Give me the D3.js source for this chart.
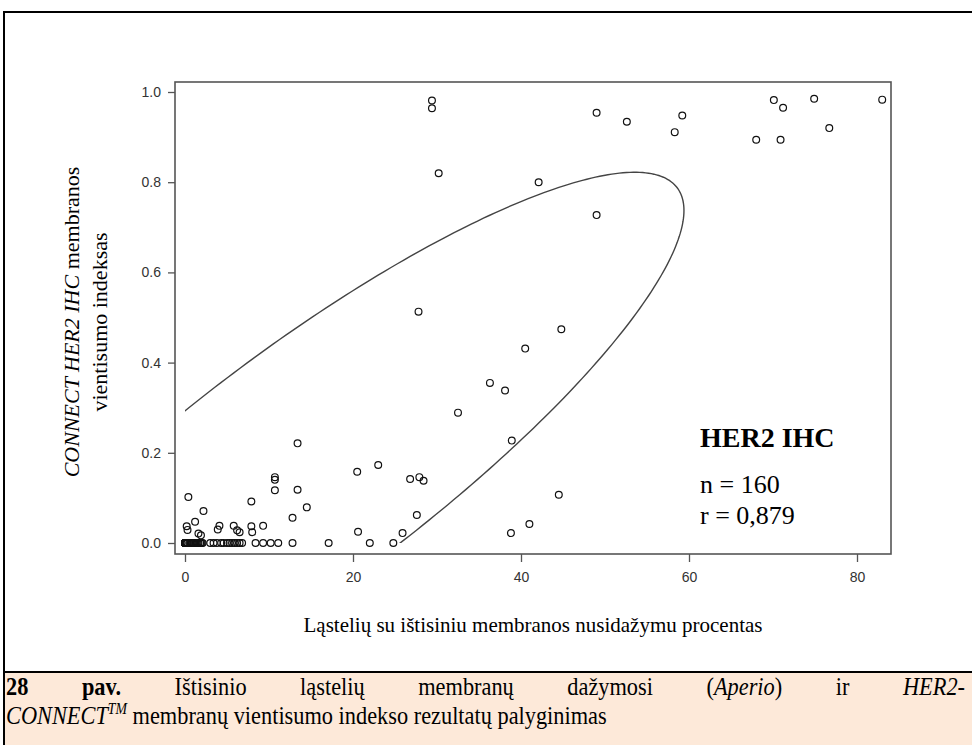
<!DOCTYPE html>
<html>
<head>
<meta charset="utf-8">
<script src="https://cdn.jsdelivr.net/npm/d3@7"></script>
<style>
  body { margin: 0; background: #fff; }
  svg { display: block; }
</style>
</head>
<body>
<div id="chart"></div>
<script>
// Points well above zero (top right group)
var upperX = [29.4, 29.4, 30.2, 42.1, 49.0, 49.0, 52.6, 59.2, 58.3, 70.1, 71.2, 68.0, 70.9, 74.9, 76.7, 83.0];
var upperY = [0.981, 0.964, 0.820, 0.800, 0.727, 0.954, 0.934, 0.948, 0.911, 0.982, 0.965, 0.894, 0.894, 0.985, 0.920, 0.983];

// middle group
var midX = [27.8, 44.8, 40.5, 36.3, 38.1, 32.5, 38.9, 23.0, 26.8, 27.9, 28.4, 27.6, 25.9, 44.5, 41.0, 38.8];
var midY = [0.513, 0.474, 0.431, 0.355, 0.338, 0.289, 0.227, 0.173, 0.142, 0.146, 0.138, 0.062, 0.022, 0.107, 0.042, 0.022];

// low group near the origin
var lowX = [0.4, 13.4, 20.5, 10.7, 10.7, 10.7, 13.4, 14.5, 12.8, 7.9, 2.2, 0.2, 0.3, 1.2, 1.6, 1.9, 4.1, 3.9, 5.8, 6.2, 6.5, 7.9, 8.0, 9.3, 20.6];
var lowY = [0.102, 0.221, 0.158, 0.146, 0.140, 0.117, 0.118, 0.079, 0.056, 0.092, 0.071, 0.037, 0.029, 0.047, 0.021, 0.017, 0.038, 0.030, 0.038, 0.028, 0.024, 0.037, 0.024, 0.038, 0.025];

// index = 0 (x values only)
var zeroX = [0,0,0,0,0,0,0,0,0,0, 0,0,0,0,0,0,0,0,0,0, 0,0,0,0,0,0,0,0,0,0,
  0,0,0,0,0,0,0,0,0,0, 0,0,0,0,0,0,0,0,0,0, 0,0,0,0,0,0,0,0,0,0, 0,0,0,0,0,0,0,
  0.2, 0.3, 0.5, 0.6, 0.8, 0.9, 1.0, 1.1, 1.2, 1.4, 1.5, 1.6, 1.8, 1.9, 2.0, 2.1,
  3.0, 3.4, 3.8, 4.3, 4.6, 5.0, 5.3, 5.6, 5.9, 6.2, 6.5, 6.8,
  8.4, 9.3, 10.2, 11.1, 12.8, 17.1, 22.0, 24.8];

// prediction ellipse: centre, half ranges, correlation
var ellipseMean = [14.4, 0.170];
var ellipseHalf = [45, 0.652];
var ellipseR = 0.87;

var xTicks = [0, 20, 40, 60, 80];
var yTicks = [0, 0.2, 0.4, 0.6, 0.8, 1.0];

var width = 972, height = 745;
var box = {left: 175, right: 891, top: 82, bottom: 554};

var svg = d3.select('#chart').append('svg')
  .attr('width', width)
  .attr('height', height);

// page frame + caption band
svg.append('rect')
  .attr('x', 5).attr('y', 673)
  .attr('width', width - 5).attr('height', height - 673)
  .attr('fill', '#fde9d9');
svg.append('path')
  .attr('d', 'M4,' + height + 'V12H' + width + 'M4,672H' + width)
  .attr('fill', 'none')
  .attr('stroke', '#000')
  .attr('stroke-width', 2);

var x = d3.scaleLinear().domain([0, 80]).range([185, 857]);
var y = d3.scaleLinear().domain([0, 1]).range([543, 92]);

// axes
var yAxis = svg.append('g')
  .attr('transform', 'translate(' + box.left + ',0)')
  .call(d3.axisLeft(y).tickValues(yTicks).tickFormat(d3.format('.1f')).tickSize(7).tickPadding(7));
var xAxis = svg.append('g')
  .attr('transform', 'translate(0,' + box.bottom + ')')
  .call(d3.axisBottom(x).tickValues(xTicks).tickSize(8).tickPadding(10));

[xAxis, yAxis].forEach(function(g) {
  g.select('.domain').remove();
  g.selectAll('line').attr('stroke', '#555').attr('stroke-width', 1.3);
  g.selectAll('text')
    .attr('fill', '#333')
    .style('font-family', '"Liberation Sans", Arial, sans-serif')
    .style('font-size', '14px');
});

svg.append('rect')
  .attr('x', box.left).attr('y', box.top)
  .attr('width', box.right - box.left).attr('height', box.bottom - box.top)
  .attr('fill', 'none')
  .attr('stroke', '#555')
  .attr('stroke-width', 1.6);

// ellipse, clipped to x >= 0 and y >= 0
svg.append('clipPath').attr('id', 'ellclip')
  .append('rect')
  .attr('x', x(0)).attr('y', box.top)
  .attr('width', box.right - x(0)).attr('height', y(0) - box.top);

var ellPts = d3.range(0, 361).map(function(deg) {
  var t = deg * Math.PI / 180;
  return [
    ellipseMean[0] + ellipseHalf[0] * Math.cos(t),
    ellipseMean[1] + ellipseHalf[1] * (ellipseR * Math.cos(t) + Math.sqrt(1 - ellipseR * ellipseR) * Math.sin(t))
  ];
});
svg.append('path')
  .datum(ellPts)
  .attr('clip-path', 'url(#ellclip)')
  .attr('d', d3.line().x(function(d) { return x(d[0]); }).y(function(d) { return y(d[1]); }))
  .attr('fill', 'none')
  .attr('stroke', '#444')
  .attr('stroke-width', 1.4);

// points
var pts = [];
upperX.forEach(function(v, i) { pts.push([v, upperY[i]]); });
midX.forEach(function(v, i) { pts.push([v, midY[i]]); });
lowX.forEach(function(v, i) { pts.push([v, lowY[i]]); });
zeroX.forEach(function(v) { pts.push([v, 0]); });

svg.append('g').selectAll('circle')
  .data(pts)
  .enter()
  .append('circle')
  .attr('cx', function(d) { return x(d[0]); })
  .attr('cy', function(d) { return y(d[1]); })
  .attr('r', 3.4)
  .attr('fill', 'none')
  .attr('stroke', '#111')
  .attr('stroke-width', 1.2);

// axis titles
var serif = '"Liberation Serif", "Times New Roman", serif';
svg.append('text')
  .attr('x', 533).attr('y', 632)
  .attr('text-anchor', 'middle')
  .style('font-family', serif)
  .style('font-size', '21px')
  .text('Ląstelių su ištisiniu membranos nusidažymu procentas');

var ylab = svg.append('text')
  .attr('transform', 'translate(79,322) rotate(-90)')
  .attr('text-anchor', 'middle')
  .style('font-family', serif)
  .style('font-size', '22px');
ylab.append('tspan').attr('x', 0).style('font-style', 'italic').text('CONNECT HER2 IHC');
ylab.append('tspan').text(' membranos');
svg.append('text')
  .attr('transform', 'translate(107,322) rotate(-90)')
  .attr('text-anchor', 'middle')
  .style('font-family', serif)
  .style('font-size', '22px')
  .text('vientisumo indeksas');

// stats box
svg.append('text')
  .attr('x', 700).attr('y', 447)
  .style('font-family', serif)
  .style('font-size', '28px')
  .style('font-weight', 'bold')
  .text('HER2 IHC');
svg.append('text')
  .attr('x', 700).attr('y', 493)
  .style('font-family', serif)
  .style('font-size', '26px')
  .text('n = 160');
svg.append('text')
  .attr('x', 700).attr('y', 524)
  .style('font-family', serif)
  .style('font-size', '26px')
  .text('r = 0,879');

// caption: narrow-looking serif, first line justified
var capScale = 0.86;
var cap1 = svg.append('text')
  .attr('transform', 'translate(6,695) scale(' + capScale + ',1)')
  .style('font-family', serif)
  .style('font-size', '26px');
cap1.append('tspan').style('font-weight', 'bold').text('28 pav.');
cap1.append('tspan').text(' Ištisinio ląstelių membranų dažymosi (');
cap1.append('tspan').style('font-style', 'italic').text('Aperio');
cap1.append('tspan').text(') ir ');
cap1.append('tspan').style('font-style', 'italic').text('HER2-');
var natural = cap1.node().getComputedTextLength();
cap1.style('word-spacing', (((965 - 6) / capScale - natural) / 8) + 'px');

var cap2 = svg.append('text')
  .attr('transform', 'translate(6,724) scale(' + capScale + ',1)')
  .style('font-family', serif)
  .style('font-size', '26px');
cap2.append('tspan').style('font-style', 'italic').text('CONNECT');
cap2.append('tspan').style('font-style', 'italic').style('font-size', '16px').attr('dy', -10).text('TM');
cap2.append('tspan').attr('dy', 10).text(' membranų vientisumo indekso rezultatų palyginimas');
</script>
</body>
</html>
